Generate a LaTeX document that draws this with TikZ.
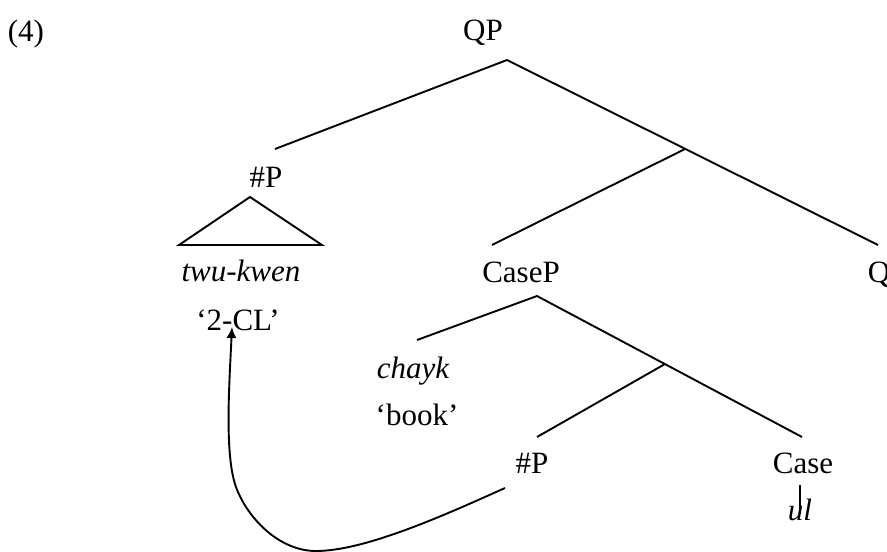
\documentclass[tikz,border=0pt]{standalone}
\usepackage{fontspec}
\setmainfont{Liberation Serif}
\usetikzlibrary{arrows.meta}
\begin{document}
\begin{tikzpicture}[x=1pt,y=-1pt,
  lbl/.style={anchor=base,inner sep=0pt,font=\fontsize{31}{37}\selectfont},
  word/.style={anchor=base,inner sep=0pt,font=\fontsize{31}{37}\selectfont\itshape},
  branch/.style={line width=1.9pt},
  move/.style={line width=1.9pt,-{Latex[length=11pt,width=10pt]}}]
\useasboundingbox (0,0) rectangle (887,552);

% labels
\node[lbl] (ex)    at (26,41)   {(4)};
\node[lbl] (qp)    at (483,40)  {QP};
\node[lbl] (nump)  at (266,187) {\#P};
\node[word] (tk)   at (241,281) {twu-kwen};
\node[lbl] (cl)    at (238,330) {‘2-CL’};
\node[lbl] (casep) at (521,282) {CaseP};
\node[lbl] (q)     at (879,282) {Q};
\node[word] (chayk) at (413,378) {chayk};
\node[lbl] (book)  at (417,425) {‘book’};
\node[lbl] (numpb) at (532,473) {\#P};
\node[lbl] (case)  at (803,473) {Case};
\node[word] (ul)   at (800,520) {ul};

% attachment points of the branches
\coordinate (qptop)   at (507,60);
\coordinate (numpup)  at (275,149);
\coordinate (qbar)    at (685,149);
\coordinate (qfoot)   at (878,245);
\coordinate (casepup) at (492,245);
\coordinate (tritop)  at (250,197);
\coordinate (tril)    at (179,245);
\coordinate (trir)    at (322,245);
\coordinate (cptop)   at (537,296);
\coordinate (chup)    at (417,340);
\coordinate (casebar) at (665,364);
\coordinate (caseup)  at (802,437);
\coordinate (numpbup) at (537,437);
\coordinate (casedn)  at (800,485);
\coordinate (ulup)    at (800,514);
\coordinate (mvstart) at (505,488);
\coordinate (cltip)   at (232,327);

% tree
\draw[branch] (numpup) -- (qptop) -- (qfoot);
\draw[branch] (qbar) -- (casepup);
\draw[branch] (tril) -- (tritop) -- (trir) -- cycle;
\draw[branch] (chup) -- (cptop) -- (caseup);
\draw[branch] (casebar) -- (numpbup);
\draw[branch] (casedn) -- (ulup);

% movement arrow
\draw[move] (mvstart) .. controls (445,515) and (365,551) .. (316,551)
  .. controls (280,551) and (250,520) .. (238,492)
  .. controls (224,462) and (229,390) .. (cltip);
\end{tikzpicture}
\end{document}
